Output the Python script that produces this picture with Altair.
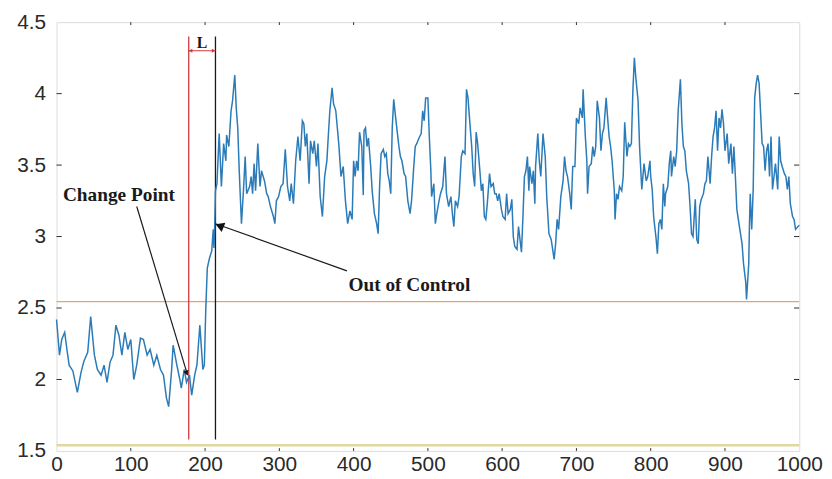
import altair as alt
import pandas as pd

t = [0,4,7,11,14,17,22,28,33,37,42,46,51,55,60,64,68,72,76,80,84,88,92,96,100,104,108,113,117,122,126,131,135,140,144,148,151,155,157,162,166,168,172,175,179,182,186,189,193,197,199,201,203,206,209,211,212,213,
     214,216,219,222,225,228,229,232,235,237,240,242,244,246,249,252,254,256,260,262,264,266,268,271,274,276,280,283,285,288,292,294,296,299,302,305,308,311,314,316,319,322,325,328,331,333,335,337,340,342,345,347,350,352,355,358,361,364,366,368,371,373,376,380,383,386,389,392,395,398,
     400,402,404,406,408,411,413,414,416,418,420,423,425,428,431,433,435,437,440,442,444,446,448,450,452,454,456,459,461,463,465,468,470,473,476,478,481,483,485,488,491,493,495,497,500,502,504,505,508,510,512,515,517,520,523,525,528,531,533,535,537,540,542,545,547,550,552,554,556,559,561,563,565,567,570,572,574,576,578,580,583,585,588,590,592,594,596,599,601,
     604,606,608,611,613,615,617,620,622,624,626,628,630,632,634,636,637,640,642,644,645,648,650,652,655,658,660,663,666,668,670,672,674,676,679,682,684,686,688,691,693,695,698,700,703,705,708,709,712,714,715,717,720,722,724,726,728,731,733,735,737,740,742,744,746,748,751,752,754,756,758,761,763,765,768,770,772,774,776,778,780,783,785,788,791,794,796,799,
     800,802,804,805,807,809,811,813,815,817,819,820,823,825,827,828,831,833,835,837,840,842,844,846,848,851,853,855,857,860,862,864,866,868,871,873,875,877,880,882,884,886,888,890,892,894,896,898,900,903,905,908,910,912,914,916,920,923,925,928,929,932,933,934,936,938,940,942,944,946,948,950,952,954,956,958,960,962,964,966,968,971,973,975,977,980,982,984,986,988,991,993,995,1000]
v = [2.42,2.17,2.28,2.33,2.21,2.10,2.06,1.91,2.05,2.13,2.19,2.44,2.17,2.07,2.03,2.10,1.98,2.12,2.17,2.38,2.31,2.17,2.33,2.21,2.28,2.00,2.10,2.29,2.28,2.17,2.21,2.10,2.17,2.07,2.03,1.87,1.81,2.07,2.24,2.10,2.00,1.94,2.07,1.98,2.03,1.89,2.03,2.10,2.38,2.07,2.10,2.50,2.78,2.85,2.90,3.05,2.92,3.08,
     3.32,3.37,3.72,3.35,3.65,3.53,3.71,3.63,3.88,3.95,4.13,3.90,3.76,3.46,3.09,3.35,3.56,3.30,3.35,3.42,3.30,3.51,3.32,3.65,3.35,3.46,3.39,3.30,3.28,3.21,3.14,3.09,3.25,3.28,3.35,3.37,3.61,3.35,3.25,3.37,3.23,3.53,3.70,3.53,3.81,3.79,3.63,3.72,3.37,3.67,3.58,3.67,3.49,3.65,3.28,3.14,3.42,3.53,3.71,3.88,4.04,3.93,3.88,3.65,3.42,3.49,3.25,3.09,3.18,3.12,
     3.53,3.42,3.53,3.46,3.73,3.63,3.29,3.74,3.76,3.63,3.69,3.49,3.32,3.16,3.09,3.02,3.35,3.58,3.61,3.56,3.58,3.44,3.39,3.30,3.76,3.96,3.86,3.72,3.63,3.56,3.53,3.44,3.42,3.25,3.16,3.25,3.49,3.63,3.65,3.69,3.72,3.88,3.81,3.97,3.97,3.69,3.46,3.28,3.37,3.09,3.16,3.25,3.30,3.35,3.56,3.30,3.21,3.28,3.16,3.07,3.25,3.21,3.28,3.56,3.60,3.58,4.03,3.97,3.83,3.63,3.44,3.35,3.73,3.65,3.46,3.32,3.37,3.14,3.12,3.23,3.44,3.35,3.37,3.30,3.30,3.25,3.30,3.19,3.14,
     3.12,3.30,3.16,3.19,3.26,3.00,2.93,2.91,3.07,2.98,2.89,3.14,3.42,3.46,3.56,3.32,3.49,3.37,3.46,3.23,3.49,3.72,3.53,3.42,3.72,3.56,3.28,3.02,2.98,2.91,2.84,2.95,3.12,3.05,3.28,3.39,3.56,3.46,3.42,3.30,3.19,3.49,3.49,3.83,3.79,3.90,3.83,4.03,3.70,3.53,3.30,3.49,3.51,3.63,3.56,3.63,3.95,3.83,3.60,3.72,3.76,3.97,3.83,3.70,3.63,3.53,3.32,3.12,3.30,3.26,3.35,3.32,3.42,3.80,3.56,3.65,3.63,3.65,4.02,4.25,4.11,3.95,3.63,3.33,3.51,3.39,3.42,3.53,
     3.42,3.33,3.14,3.09,3.00,2.88,3.09,3.12,3.05,3.37,3.21,3.30,3.35,3.51,3.60,3.42,3.56,3.49,3.60,3.88,4.10,3.79,3.63,3.60,3.46,3.37,3.21,3.02,3.00,3.26,2.98,2.95,3.21,3.26,3.30,3.37,3.39,3.56,3.37,3.56,3.70,3.76,3.88,3.60,3.83,3.76,3.89,3.79,3.60,3.72,3.51,3.65,3.44,3.63,3.42,3.19,3.05,2.95,2.81,2.68,2.56,2.81,3.09,3.30,3.05,3.33,3.97,4.07,4.13,4.07,3.86,3.65,3.63,3.46,3.60,3.65,3.42,3.70,3.33,3.42,3.51,3.33,3.70,3.53,3.49,3.44,3.42,3.33,3.42,3.23,3.14,3.12,3.05,3.08]

x_ticks = [0, 100, 200, 300, 400, 500, 600, 700, 800, 900, 1000]
y_ticks = [1.5, 2, 2.5, 3, 3.5, 4, 4.5]

limits = [2.545, 1.54]
limit_colors = ["#d9a67c", "#e2d7a0"]
change_point = 178
out_of_control = 214
vline_bottom = 1.58
vline_top = 4.40
l_arrow_y = 4.30

df = pd.DataFrame({"t": t, "v": v})
xs = alt.Scale(domain=[0, 1000], nice=False, zero=False)
ys = alt.Scale(domain=[1.5, 4.5], nice=False, zero=False)

xaxis = alt.Axis(values=x_ticks, title=None, grid=False, ticks=False, domain=False,
                 labelFont="Liberation Sans", labelFontSize=21, labelColor="#2a2a2a",
                 labelPadding=3, labelFlush=False, labelOverlap=False, format="d")
yaxis = alt.Axis(values=y_ticks, title=None, grid=False, ticks=False, domain=False,
                 labelFont="Liberation Sans", labelFontSize=21, labelColor="#2a2a2a",
                 labelPadding=11, labelOverlap=False, format="~g")

line = alt.Chart(df).mark_line(color="#2a7bb8", strokeWidth=1.5).encode(
    x=alt.X("t:Q", scale=xs, axis=xaxis),
    y=alt.Y("v:Q", scale=ys, axis=yaxis),
)

hl = alt.Chart(pd.DataFrame({"y": limits, "c": limit_colors, "w": [1.3, 2.5]})).mark_rule().encode(
    y=alt.Y("y:Q", scale=ys),
    color=alt.Color("c:N", scale=None),
    strokeWidth=alt.StrokeWidth("w:Q", scale=None),
)

vl = alt.Chart(pd.DataFrame({"x": [change_point, out_of_control], "y0": [vline_bottom] * 2,
                             "y1": [vline_top] * 2, "c": ["#d23a3a", "#1a1a1a"]})).mark_rule(strokeWidth=1.3).encode(
    x=alt.X("x:Q", scale=xs), y=alt.Y("y0:Q", scale=ys), y2="y1:Q",
    color=alt.Color("c:N", scale=None),
)

# inward ticks (MATLAB box style)
tick_len_y = 0.02
tick_len_x = 7
bt = pd.DataFrame({"x": x_ticks[1:-1]})
ticks_b = alt.Chart(bt).mark_rule(color="#303030", strokeWidth=1).encode(
    x=alt.X("x:Q", scale=xs), y=alt.datum(1.5, scale=ys), y2=alt.datum(1.5 + tick_len_y))
ticks_t = alt.Chart(bt).mark_rule(color="#303030", strokeWidth=1).encode(
    x=alt.X("x:Q", scale=xs), y=alt.datum(4.5, scale=ys), y2=alt.datum(4.5 - tick_len_y))
lt = pd.DataFrame({"y": y_ticks[1:-1]})
ticks_l = alt.Chart(lt).mark_rule(color="#303030", strokeWidth=1).encode(
    y=alt.Y("y:Q", scale=ys), x=alt.datum(0, scale=xs), x2=alt.datum(tick_len_x))
ticks_r = alt.Chart(lt).mark_rule(color="#303030", strokeWidth=1).encode(
    y=alt.Y("y:Q", scale=ys), x=alt.datum(1000, scale=xs), x2=alt.datum(1000 - tick_len_x))

# L arrow
l_line = alt.Chart(pd.DataFrame({"x": [change_point], "x2": [out_of_control], "y": [l_arrow_y]})).mark_rule(
    color="#d23a3a", strokeWidth=1).encode(x=alt.X("x:Q", scale=xs), x2="x2:Q", y=alt.Y("y:Q", scale=ys))
l_heads = alt.Chart(pd.DataFrame({"x": [change_point + 2.5, out_of_control - 2.5], "y": [l_arrow_y] * 2,
                                  "s": ["triangle-left", "triangle-right"]})).mark_point(
    filled=True, color="#d23a3a", size=18, opacity=1).encode(
    x=alt.X("x:Q", scale=xs), y=alt.Y("y:Q", scale=ys), shape=alt.Shape("s:N", scale=None))
l_text = alt.Chart(pd.DataFrame({"x": [(change_point + out_of_control) / 2], "y": [4.355], "s": ["L"]})).mark_text(
    font="Liberation Serif", fontSize=16, fontWeight="bold", color="#1a1a1a").encode(
    x=alt.X("x:Q", scale=xs), y=alt.Y("y:Q", scale=ys), text="s:N")

# annotation arrows
arrows = pd.DataFrame({"x": [108, 391], "y": [3.21, 2.76], "x2": [176.5, 214], "y2": [2.03, 3.09]})
arr_lines = alt.Chart(arrows).mark_rule(color="#1a1a1a", strokeWidth=1.2).encode(
    x=alt.X("x:Q", scale=xs), y=alt.Y("y:Q", scale=ys), x2="x2:Q", y2="y2:Q")
heads = pd.DataFrame({"x": [175.0, 219.5], "y": [2.045, 3.075], "a": [163, 292], "sz": [30, 100]})
arr_heads = alt.Chart(heads).mark_point(shape="triangle-up", filled=True, color="#111111", opacity=1).encode(
    x=alt.X("x:Q", scale=xs), y=alt.Y("y:Q", scale=ys),
    angle=alt.Angle("a:Q", scale=None), size=alt.Size("sz:Q", scale=None))

labels = pd.DataFrame({"x": [84, 475], "y": [3.29, 2.66], "s": ["Change Point", "Out of Control"]})
ann = alt.Chart(labels).mark_text(font="Liberation Serif", fontSize=19.5, fontWeight="bold", color="#1a1a1a").encode(
    x=alt.X("x:Q", scale=xs), y=alt.Y("y:Q", scale=ys), text="s:N")

chart = alt.layer(hl, vl, line, ticks_b, ticks_t, ticks_l, ticks_r, l_line, l_heads, l_text,
                  arr_lines, arr_heads, ann).properties(
    width=750, height=433,
    padding={"left": 49, "top": 12, "right": 25, "bottom": 24},
    autosize=alt.AutoSizeParams(type="none"),
).configure_view(stroke="#303030", strokeWidth=1).configure(background="white")

chart.save("out.html", embed_options={"renderer": "svg", "actions": False})
